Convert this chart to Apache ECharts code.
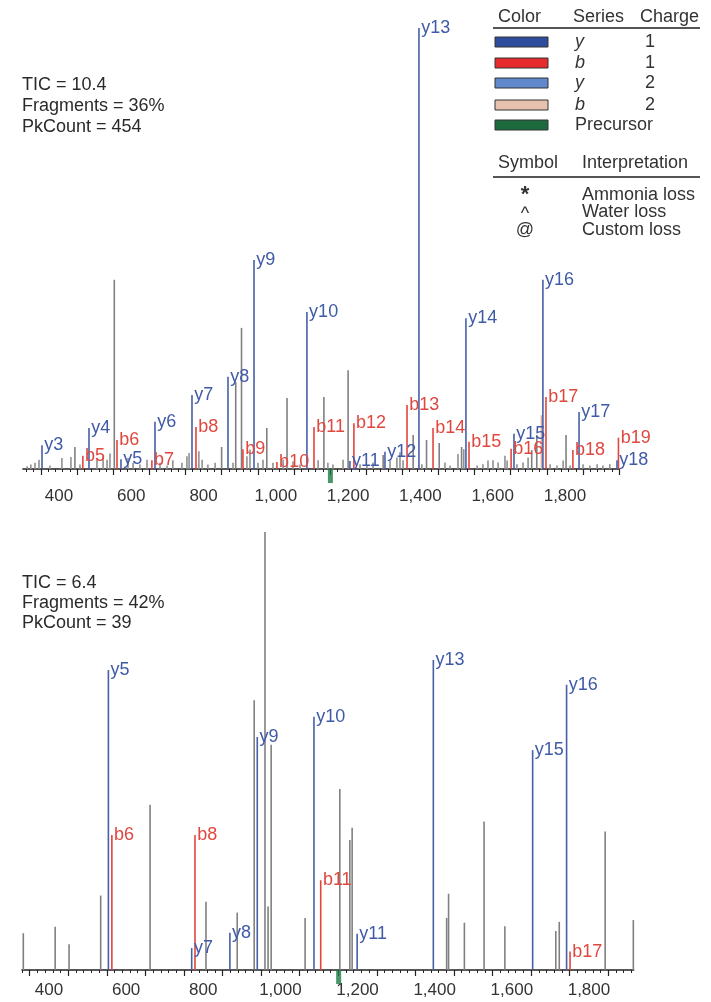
<!DOCTYPE html>
<html><head><meta charset="utf-8">
<script src="https://cdn.jsdelivr.net/npm/echarts@6/dist/echarts.min.js"></script>
<style>html,body{margin:0;padding:0;background:#fff}#c{width:711px;height:1002px}</style>
</head><body><div id="c"></div>
<script>
const FONT = '"Liberation Sans", Arial, Helvetica, sans-serif';

// ---------- shared axis labels ----------
const tickLabelValues = [400, 600, 800, 1000, 1200, 1400, 1600, 1800];

// ---------- top spectrum ----------
const topStats = ['TIC = 10.4', 'Fragments = 36%', 'PkCount = 454'];
const topRange = [300, 1950];
const topMajorTicks = [350, 450, 550, 650, 750, 850, 950, 1050, 1150, 1250, 1350, 1450, 1550, 1650, 1750, 1850, 1950];
const topNoise = [[312,0.6],[322,1.0],[333.6,1.4],[344.7,2.1],[375,0.8],[408,2.5],[433,2.7],[458,1.0],[505,2.1],[522,3.0],[533,2.1],[541,3.5],[591,2.5],[605,1.4],[624,1.0],[643.5,2.1],[679.5,1.4],[699,0.8],[715,2.0],[740,1.4],[754,2.9],[760,3.6],[787,4.0],[796,2.1],[812,1.0],[832,1.4],[881.5,1.4],[920,2.9],[928.5,4.4],[950.6,1.4],[964.5,2.1],[992,1.4],[1020,2.1],[1047.5,1.7],[1067,1.0],[1117,2.0],[1144,1.4],[1158,1.0],[1186,2.1],[1233,1.1],[1252,0.8],[1269,1.5],[1316,1.9],[1335,2.6],[1343.5,3.8],[1352,2.0],[1404,1.1],[1468,1.5],[1482,0.8],[1504,3.4],[1520,4.5],[1557,0.8],[1573,1.1],[1587,1.9],[1601,2.0],[1615,1.5],[1634,3.0],[1640,1.9],[1667,1.1],[1684,1.5],[1698,2.6],[1759,1.1],[1778,0.8],[1795,1.9],[1814,0.8],[1850,1.1],[1869,0.8],[1889,1.1],[1905,0.8],[1924,1.1]];
const topGray = [[444,5.0],[553,42.9],[850,5.0],[889,19.7],[905,32.0],[975,9.3],[1031,16.1],[1133,16.3],[1200,22.4],[1297,3.2],[1380,7.7],[1417,6.6],[1452,5.9],[1514,5.0],[1708,4.3],[1722,7.7],[1803,7.7]];
const topB2 = [[1735,12.2]];
const topY = [['y3',353,5.4],['y4',483,9.3],['y5',571.5,2.2],['y6',665.6,10.7],['y7',768,16.8],['y8',867.6,20.9],['y9',939.6,47.4],['y10',1086,35.6],['y11',1205,1.8],['y12',1302,3.9],['y13',1396,100],['y14',1526,34.2],['y15',1659,8.0],['y16',1739,42.9],['y17',1839,12.9],['y18',1944,2.0]];
const topB = [['b5',466,3.0],['b6',560.5,6.6],['b7',657,2.0],['b8',779,9.5],['b9',909,4.5],['b10',1003,1.6],['b11',1105.6,9.5],['b12',1216,10.4],['b13',1363,14.5],['b14',1435,9.3],['b15',1534.5,6.2],['b16',1651,4.6],['b17',1747.5,16.3],['b18',1822,4.3],['b19',1948,7.1]];
const topPrecursor = 1151;

// ---------- bottom spectrum ----------
const botStats = ['TIC = 6.4', 'Fragments = 42%', 'PkCount = 39'];
const botRange = [330, 1916];
const botMajorTicks = [350, 450, 550, 650, 750, 850, 950, 1050, 1150, 1250, 1350, 1450, 1550, 1650, 1750, 1850];
const botGray = [[333.4,8.4],[416,9.9],[452,5.9],[534,17.0],[662,37.7],[807,15.6],[888,13.1],[932,61.6],[960,100],[968,14.5],[976,51.4],[1064,11.9],[1154,41.3],[1180,29.7],[1186,32.5],[1431,11.9],[1436,17.4],[1477,10.8],[1528,33.9],[1582,10.0],[1714,8.9],[1723,11.0],[1842,31.6],[1915,11.4]];
const botY = [['y5',554,68.5],['y7',770,5.0],['y8',869,8.5],['y9',940,53.2],['y10',1087,57.8],['y11',1199,8.3],['y13',1396.5,70.8],['y15',1654,50.2],['y16',1742,65.1]];
const botB = [['b6',563,30.8],['b8',778.5,30.8],['b11',1104.5,20.5],['b17',1751,4.2]];
const botPrecursor = 1151;

// ---------- legend ----------
const legendRows = [['y','1'],['b','1'],['y','2'],['b','2'],['Precursor','']];
const legendSymbols = [['*','Ammonia loss'],['^','Water loss'],['@','Custom loss']];

// ---------- styles ----------
const C = {gray:'#808080', noise:'#909090', y1:'#4660a6', b1:'#e2453d', y2:'#6e8fd0', b2:'#d8a9a2', pre:'#1e7a45',
           yLab:'#3f5aa6', bLab:'#e0473f', axis:'#222', text:'#2a2a2a'};
const swatch = ['#2e4c9c', '#e52b2b', '#6088cc', '#e6c2ae', '#1d6b3c'];

function minorTicks(range, majors) {
  const out = [];
  const start = majors[0] - 20 * Math.floor((majors[0] - range[0]) / 20);
  for (let v = start; v <= range[1]; v += 20) if ((v - 350) % 100 !== 0) out.push(v);
  return out;
}

function bars(axisIdx, gridIdx, rows, color, labelColor) {
  const labeled = typeof rows[0][0] === 'string';
  return {
    type: 'bar', xAxisIndex: axisIdx, yAxisIndex: gridIdx, barWidth: 1.6, barGap: '-100%',
    silent: true, animation: false,
    itemStyle: {color},
    data: rows.map(r => labeled ? {name: r[0], value: [r[1], r[2]]} : {value: [r[0], r[1]]}),
    label: labeled ? {show: true, position: [3, 0], align: 'left', verticalAlign: 'middle',
      formatter: '{b}', color: labelColor, fontSize: 18, fontFamily: FONT} : {show: false}
  };
}

function xAxes(gridIdx, range, majors, margin) {
  return [
    {gridIndex: gridIdx, type: 'value', min: range[0], max: range[1], position: 'bottom',
     axisLine: {show: true, onZero: false, lineStyle: {color: C.axis, width: 1.5}},
     axisTick: {show: true, customValues: majors, length: 6, lineStyle: {color: C.axis, width: 1.2}},
     axisLabel: {show: true, customValues: tickLabelValues, formatter: v => Number(v).toLocaleString('en-US'),
       fontSize: 17, color: '#333', margin: margin, fontFamily: FONT},
     splitLine: {show: false}},
    {gridIndex: gridIdx, type: 'value', min: range[0], max: range[1], position: 'bottom',
     axisLine: {show: false, onZero: false},
     axisTick: {show: true, customValues: minorTicks(range, majors), length: 3, lineStyle: {color: C.axis, width: 1}},
     axisLabel: {show: false}, splitLine: {show: false}}
  ];
}

function precursor(axisIdx, gridIdx, mz) {
  return {type: 'scatter', xAxisIndex: axisIdx, yAxisIndex: gridIdx, symbol: 'rect', symbolSize: [5, 14],
    clip: false, silent: true, animation: false, itemStyle: {color: C.pre}, data: [[mz, -1.6]]};
}

const graphics = [];
function txt(s, x, y, opts) {
  opts = opts || {};
  graphics.push({type: 'text', silent: true, style: Object.assign({
    text: s, x, y, fill: opts.fill || C.text,
    font: (opts.style || 'normal') + ' ' + (opts.weight || 'normal') + ' ' + (opts.size || 18) + 'px ' + FONT,
    textAlign: opts.align || 'left', textVerticalAlign: 'middle', align: opts.align || 'left', verticalAlign: 'middle'
  })});
}
topStats.forEach((s, i) => txt(s, 22, 85 + i * 21));
botStats.forEach((s, i) => txt(s, 22, 583 + i * 20));

// legend table
txt('Color', 498, 17, {fill: '#333'});
txt('Series', 573, 17, {fill: '#333'});
txt('Charge', 640, 17, {fill: '#333'});
graphics.push({type: 'line', silent: true, shape: {x1: 493, y1: 28, x2: 700, y2: 28}, style: {stroke: '#555', lineWidth: 2}});
const rowY = [42, 63, 83, 105, 125];
legendRows.forEach((r, i) => {
  graphics.push({type: 'rect', silent: true, shape: {x: 495, y: rowY[i] - 5, width: 53, height: 10},
    style: {fill: swatch[i], stroke: '#333', lineWidth: 1}});
  txt(r[0], 575, rowY[i], {fill: '#333', style: r[0].length === 1 ? 'italic' : 'normal'});
  if (r[1]) txt(r[1], 645, rowY[i], {fill: '#333'});
});
txt('Symbol', 498, 163, {fill: '#333'});
txt('Interpretation', 582, 163, {fill: '#333'});
graphics.push({type: 'line', silent: true, shape: {x1: 493, y1: 177, x2: 700, y2: 177}, style: {stroke: '#555', lineWidth: 2}});
const symY = [195, 212, 230];
const symGlyphY = [195, 214, 230];
legendSymbols.forEach((r, i) => {
  txt(r[0], 525, symGlyphY[i], {fill: '#333', align: 'center', weight: r[0] === '*' ? 'bold' : 'normal', size: r[0] === '*' ? 22 : 18});
  txt(r[1], 582, symY[i], {fill: '#333'});
});

const chart = echarts.init(document.getElementById('c'), null, {renderer: 'canvas'});
chart.setOption({
  backgroundColor: '#fff',
  animation: false,
  grid: [
    {left: 22.86, top: 28, width: 596.3, height: 441},
    {left: 22.0, top: 532, width: 611.7, height: 438}
  ],
  xAxis: [].concat(xAxes(0, topRange, topMajorTicks, 19), xAxes(1, botRange, botMajorTicks, 12)),
  yAxis: [
    {gridIndex: 0, type: 'value', min: 0, max: 100, show: false},
    {gridIndex: 1, type: 'value', min: 0, max: 100, show: false}
  ],
  series: [
    bars(0, 0, topNoise, C.noise),
    bars(0, 0, topGray, C.gray),
    bars(0, 0, topB2, C.b2),
    bars(0, 0, topB, C.b1, C.bLab),
    bars(0, 0, topY, C.y1, C.yLab),
    precursor(0, 0, topPrecursor),
    bars(2, 1, botGray, C.gray),
    bars(2, 1, botB, C.b1, C.bLab),
    bars(2, 1, botY, C.y1, C.yLab),
    precursor(2, 1, botPrecursor)
  ],
  graphic: graphics
});
</script></body></html>
